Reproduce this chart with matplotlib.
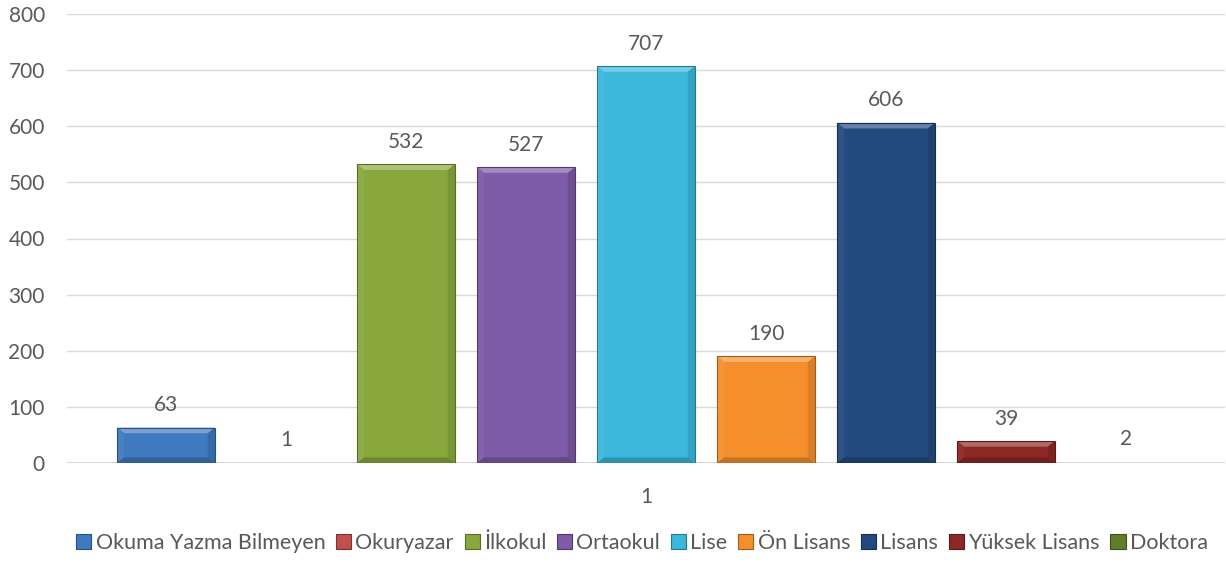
import matplotlib
matplotlib.use("Agg")
import matplotlib.pyplot as plt
from matplotlib.patches import Polygon, Rectangle
from matplotlib.colors import to_rgb

categories = ["Okuma Yazma Bilmeyen", "Okuryazar", "İlkokul", "Ortaokul", "Lise",
              "Ön Lisans", "Lisans", "Yüksek Lisans", "Doktora"]
values = [63, 1, 532, 527, 707, 190, 606, 39, 2]
colors = ["#3F79C0", "#C0504D", "#88A83D", "#7D5BA6", "#3BB8DC",
          "#F58F2C", "#234A7E", "#8C2826", "#5F7D2B"]
category_label = "1"
yticks = [0, 100, 200, 300, 400, 500, 600, 700, 800]

plt.rcParams["font.family"] = ["Lato", "DejaVu Sans"]
TEXT = "#595959"


def shade(c, f):
	r, g, b = to_rgb(c)
	if f >= 0:
		return (r + (1 - r) * f, g + (1 - g) * f, b + (1 - b) * f)
	return (r * (1 + f), g * (1 + f), b * (1 + f))


def add_bevel(ax, rect, color, bx, by):
	x0, y0 = rect.get_x(), rect.get_y()
	w, h = rect.get_width(), rect.get_height()
	if h < 5:
		# too thin to show anything
		rect.set_visible(False)
		return
	by = min(by, h / 2)
	bx = min(bx, w / 2)
	x1, y1 = x0 + w, y0 + h
	# top bevel lighter, sides and bottom a bit darker
	ax.add_patch(Polygon([(x0, y1), (x1, y1), (x1 - bx, y1 - by), (x0 + bx, y1 - by)],
						 closed=True, fc=shade(color, 0.3), ec="none", zorder=3))
	ax.add_patch(Polygon([(x0, y0), (x0 + bx, y0 + by), (x0 + bx, y1 - by), (x0, y1)],
						 closed=True, fc=shade(color, 0.05), ec="none", zorder=3))
	ax.add_patch(Polygon([(x1, y0), (x1 - bx, y0 + by), (x1 - bx, y1 - by), (x1, y1)],
						 closed=True, fc=shade(color, -0.12), ec="none", zorder=3))
	ax.add_patch(Polygon([(x0, y0), (x1, y0), (x1 - bx, y0 + by), (x0 + bx, y0 + by)],
						 closed=True, fc=shade(color, -0.2), ec="none", zorder=3))
	ax.add_patch(Rectangle((x0, y0), w, h, fc="none", ec=shade(color, -0.35), lw=0.8, zorder=4))


fig = plt.figure(figsize=(12.26, 5.67), dpi=100)
ax = fig.add_axes([67 / 1226, 1 - 463 / 567, 1158 / 1226, 449 / 567])

xs = list(range(len(values)))
width = 98 / 120
bars = ax.bar(xs, values, width=width, color=colors, zorder=2)
for rect, c in zip(bars, colors):
	add_bevel(ax, rect, c, 0.06, 10)

for x, v in zip(xs, values):
	ax.annotate(str(v), (x, v), xytext=(0, 9), textcoords="offset points",
				ha="center", va="bottom", fontsize=15, color=TEXT)

ax.set_xlim(-0.5 - 39 / 120, len(values) - 0.5 + 39 / 120)
ax.set_ylim(0, 800)
ax.set_yticks(yticks)
ax.set_yticklabels([str(t) for t in yticks], fontsize=15, color=TEXT)
ax.set_xticks([4])
ax.set_xticklabels([category_label], fontsize=15, color=TEXT)
ax.tick_params(axis="both", length=0)
ax.tick_params(axis="y", pad=16)
ax.tick_params(axis="x", pad=17)
ax.grid(axis="y", color="#D9D9D9", lw=1, zorder=0)
ax.set_axisbelow(True)
for s in ax.spines.values():
	s.set_visible(False)
ax.axhline(0, color="#D0D0D0", lw=1.2, zorder=1)

handles = [Rectangle((0, 0), 1, 1, fc=c, ec=shade(c, -0.35), lw=0.8) for c in colors]
fig.legend(handles, categories, loc="center", bbox_to_anchor=(642 / 1226, 1 - 543 / 567),
		   ncol=len(categories), frameon=False, fontsize=15.5, labelcolor=TEXT,
		   handlelength=0.7, handleheight=0.7, handletextpad=0.2, columnspacing=0.5,
		   borderaxespad=0)

fig.savefig("out.png", dpi=100)
